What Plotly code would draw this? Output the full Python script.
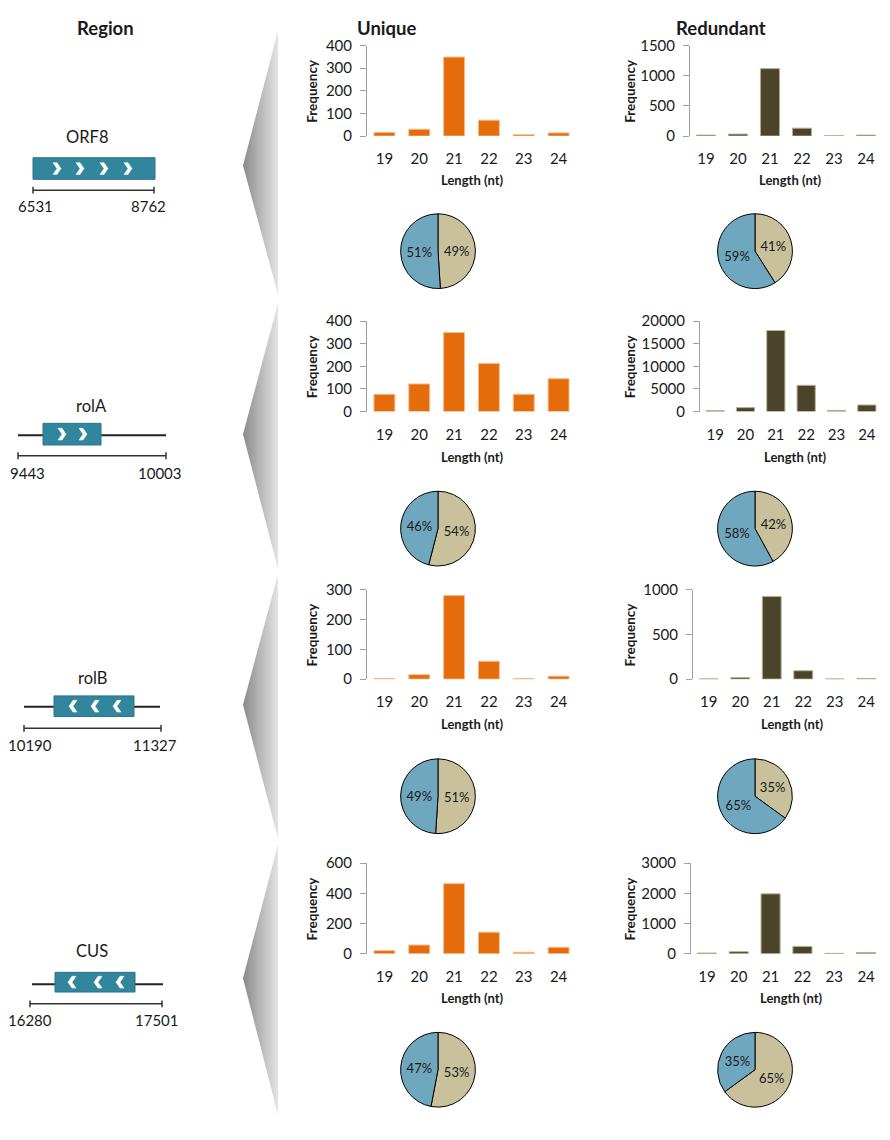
import plotly.graph_objects as go

# page is 890x1140; the figure sits inside the body margin
OX, OY = 8, 17
W, H = 874, 1115

# ---- data ----
lengths = ['19', '20', '21', '22', '23', '24']
regions = ['ORF8', 'rolA', 'rolB', 'CUS']
region_start = ['6531', '9443', '10190', '16280']
region_end = ['8762', '10003', '11327', '17501']

orf8_unique = [16, 30, 349, 70, 6, 14]
orf8_redundant = [16, 33, 1118, 131, 5, 16]
rola_unique = [76, 122, 349, 212, 76, 145]
rola_redundant = [200, 870, 17900, 5800, 250, 1450]
rolb_unique = [2, 15, 280, 60, 2, 10]
rolb_redundant = [3, 18, 924, 94, 2, 8]
cus_unique = [20, 57, 464, 142, 9, 42]
cus_redundant = [20, 66, 1982, 240, 10, 40]

# pie shares in %, [tan slice, blue slice]
orf8_unique_pct = [49, 51]
orf8_redundant_pct = [41, 59]
rola_unique_pct = [54, 46]
rola_redundant_pct = [42, 58]
rolb_unique_pct = [51, 49]
rolb_redundant_pct = [35, 65]
cus_unique_pct = [53, 47]
cus_redundant_pct = [65, 35]

unique_counts = [orf8_unique, rola_unique, rolb_unique, cus_unique]
redundant_counts = [orf8_redundant, rola_redundant, rolb_redundant, cus_redundant]
unique_pct = [orf8_unique_pct, rola_unique_pct, rolb_unique_pct, cus_unique_pct]
redundant_pct = [orf8_redundant_pct, rola_redundant_pct, rolb_redundant_pct, cus_redundant_pct]

unique_max = [400, 400, 300, 600]
unique_dtick = [100, 100, 100, 200]
redundant_max = [1500, 20000, 1000, 3000]
redundant_dtick = [500, 5000, 500, 1000]

# ---- layout in page pixels ----
FONT = 'Lato'
ORANGE = '#E46C0A'
OLIVE = '#4A452A'
BLUE = '#6FA8BE'
TAN = '#C8C19C'
TEAL = '#31859C'
AXIS = '#A0A0A0'
TXT = '#1a1a1a'

row_top = [45, 325, 598, 876]
row_zero = [137, 417, 689, 968]
row_len_y = [182, 463, 735, 1013]
row_pie_y = [254, 536, 808, 1086]
u_x = (367, 576)
r_x = [(690, 882), (700, 882), (693, 882), (691, 882)]
u_pie_x = 438
r_pie_x = 755
pie_r = 38


def px(x):
    return min(max((x - OX) / W, 0), 1)


def py(y):
    return min(max(1 - (y - OY) / H, 0), 1)


fig = go.Figure()
layout = dict(
    width=W, height=H, margin=dict(l=0, r=0, t=0, b=0),
    paper_bgcolor='white', plot_bgcolor='rgba(0,0,0,0)',
    showlegend=False, font=dict(family=FONT, color=TXT),
)
annotations = []
shapes = []


def add_bars(n, vals, color, edge, x0, x1, top, zero, ymax, dtick):
    fig.add_trace(go.Bar(
        x=lengths, y=vals, width=0.6,
        marker=dict(color=color, line=dict(color=edge, width=1)),
        xaxis='x%d' % n, yaxis='y%d' % n, hoverinfo='skip',
    ))
    layout['xaxis%d' % n] = dict(
        domain=[px(x0), px(x1)], anchor='y%d' % n, type='category',
        range=[-0.5, 5.5], showline=False, ticks='', showgrid=False,
        zeroline=False, tickfont=dict(size=15, color=TXT),
        ticklabelstandoff=12,
    )
    layout['yaxis%d' % n] = dict(
        domain=[py(zero), py(top)], anchor='x%d' % n,
        range=[0, ymax], dtick=dtick, tickformat='d', showline=True,
        linecolor=AXIS, linewidth=1, ticks='outside', ticklen=6,
        tickcolor=AXIS, showgrid=False, zeroline=False,
        tickfont=dict(size=15, color=TXT), ticklabelstandoff=5,
    )


def add_pie(pct, cx, cy):
    fig.add_trace(go.Pie(
        values=pct, text=['%d%%' % v for v in pct], textinfo='text',
        textposition='inside', insidetextorientation='horizontal',
        textfont=dict(size=13, color=TXT, family=FONT),
        marker=dict(colors=[TAN, BLUE], line=dict(color='black', width=1)),
        sort=False, direction='clockwise', rotation=0,
        domain=dict(x=[px(cx - pie_r), px(cx + pie_r)],
                    y=[py(cy + pie_r), py(cy - pie_r)]),
        hoverinfo='skip',
    ))


def label(x, y, text, size, bold=False, angle=0):
    annotations.append(dict(
        x=x, y=y, xref='x9', yref='y9', text='<b>%s</b>' % text if bold else text,
        showarrow=False, xanchor='center', yanchor='middle', textangle=angle,
        font=dict(size=size, color=TXT, family=FONT),
    ))


for i in range(4):
    add_bars(2 * i + 1, unique_counts[i], ORANGE, '#F8B98A', u_x[0], u_x[1],
             row_top[i], row_zero[i], unique_max[i], unique_dtick[i])
    add_bars(2 * i + 2, redundant_counts[i], OLIVE, '#B8B295', r_x[i][0], r_x[i][1],
             row_top[i], row_zero[i], redundant_max[i], redundant_dtick[i])
    mid = (row_top[i] + row_zero[i]) / 2
    label(312, mid, 'Frequency', 13.5, bold=True, angle=-90)
    label(630, mid, 'Frequency', 13.5, bold=True, angle=-90)
    label((u_x[0] + u_x[1]) / 2, row_len_y[i], 'Length (nt)', 13, bold=True)
    label((r_x[i][0] + 890) / 2, row_len_y[i], 'Length (nt)', 13, bold=True)
    add_pie(unique_pct[i], u_pie_x, row_pie_y[i])
    add_pie(redundant_pct[i], r_pie_x, row_pie_y[i])

# pixel overlay (page coordinates) for the region panel
layout['xaxis9'] = dict(domain=[0, 1], range=[OX, OX + W], visible=False, anchor='y9')
layout['yaxis9'] = dict(domain=[0, 1], range=[OY + H, OY], visible=False, anchor='x9')

# grey funnels between region and charts
tri_top = [30, 307, 582, 857]
tri_tip = [167, 440, 715, 993]
tri_bot = [298, 577, 851, 1132]
for t, m, b in zip(tri_top, tri_tip, tri_bot):
    fig.add_trace(go.Scatter(
        x=[278, 243, 278, 278], y=[t, m, b, t], fill='toself', mode='lines',
        line=dict(width=0, color='rgba(0,0,0,0)'),
        fillgradient=dict(type='horizontal',
                          colorscale=[[0, '#8a8a8a'], [1, '#e4e4e4']]),
        xaxis='x9', yaxis='y9', hoverinfo='skip',
    ))

# gene diagrams
gene_label_xy = [(87, 138), (91, 411), (92, 688), (92, 965)]
gene_box = [(33, 155, 159, 181), (43, 101, 429, 451), (54, 134, 706, 727), (55, 135, 987, 1007)]
gene_backbone = [None, (18, 166, 441), (24, 160, 717), (32, 163, 999)]
gene_chevrons = [[57, 80, 104, 128], [62, 83], [73, 95, 117], [72, 98, 120]]
gene_dir = [1, 1, -1, -1]
scale_bar = [(33, 154, 192), (18, 166, 462), (24, 161, 739), (30, 162, 1019)]
coord_y = [208, 479, 756, 1035]
coord_x = [(35, 148), (27, 160), (30, 155), (30, 157)]


def seg(x0, y0, x1, y1, color, width):
    shapes.append(dict(type='line', xref='x9', yref='y9', x0=x0, y0=y0, x1=x1, y1=y1,
                       line=dict(color=color, width=width)))


for i in range(4):
    label(gene_label_xy[i][0], gene_label_xy[i][1], regions[i], 16.5)
    if gene_backbone[i]:
        a, b, y = gene_backbone[i]
        seg(a, y, b, y, '#222222', 2)
    x0, x1, y0, y1 = gene_box[i]
    shapes.append(dict(type='rect', xref='x9', yref='y9', x0=x0, x1=x1, y0=y0, y1=y1,
                       fillcolor=TEAL, line=dict(color='#2B7489', width=1)))
    cy = (y0 + y1) / 2
    d = gene_dir[i]
    for cx in gene_chevrons[i]:
        pts = [(cx - 4 * d, cy - 6), (cx, cy - 6), (cx + 4 * d, cy),
               (cx, cy + 6), (cx - 4 * d, cy + 6), (cx, cy)]
        path = 'M ' + ' L '.join('%g,%g' % p for p in pts) + ' Z'
        shapes.append(dict(type='path', xref='x9', yref='y9', path=path,
                           fillcolor='white', line=dict(color='white', width=0.5)))
    a, b, y = scale_bar[i]
    seg(a, y, b, y, '#333333', 1.5)
    seg(a, y - 3.5, a, y + 3.5, '#333333', 1.5)
    seg(b, y - 3.5, b, y + 3.5, '#333333', 1.5)
    label(coord_x[i][0], coord_y[i], region_start[i], 15)
    label(coord_x[i][1], coord_y[i], region_end[i], 15)

# column headers (kept just inside the figure's top edge)
label(105, 27, 'Region', 18.5, bold=True)
label(386, 27, 'Unique', 18.5, bold=True)
label(721, 27, 'Redundant', 18.5, bold=True)

layout['annotations'] = annotations
layout['shapes'] = shapes
fig.update_layout(**layout)
fig.write_html("out.html")
